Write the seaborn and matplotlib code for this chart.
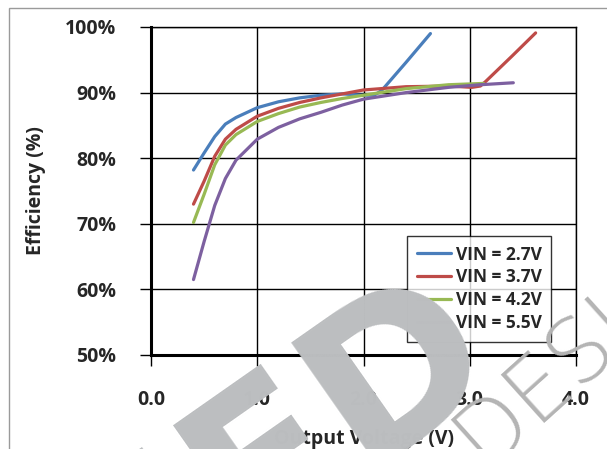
import numpy as np
import pandas as pd
import matplotlib.pyplot as plt
import matplotlib.patches as mpatches
import seaborn as sns

# values
v_27 = [0.40, 0.50, 0.60, 0.70, 0.80, 1.00, 1.20, 1.40, 1.60, 1.80, 2.00, 2.10, 2.17, 2.40, 2.63]
e_27 = [78.2, 80.8, 83.3, 85.2, 86.2, 87.7, 88.6, 89.2, 89.6, 89.8, 89.6, 89.6, 90.3, 94.6, 99.0]

v_37 = [0.40, 0.50, 0.60, 0.70, 0.80, 1.00, 1.20, 1.40, 1.60, 1.80, 2.00, 2.40, 2.80, 3.02, 3.10, 3.15, 3.40, 3.62]
e_37 = [73.0, 76.5, 80.3, 82.9, 84.4, 86.4, 87.6, 88.5, 89.2, 89.8, 90.4, 90.9, 91.0, 90.8, 91.0, 91.7, 95.6, 99.1]

v_42 = [0.40, 0.50, 0.60, 0.70, 0.80, 1.00, 1.20, 1.40, 1.60, 1.80, 2.00, 2.40, 2.80, 3.13]
e_42 = [70.2, 74.5, 79.0, 82.0, 83.6, 85.6, 86.8, 87.8, 88.5, 89.1, 89.6, 90.6, 91.2, 91.4]

v_55 = [0.40, 0.50, 0.60, 0.70, 0.80, 1.00, 1.20, 1.40, 1.60, 1.80, 2.00, 2.40, 2.80, 3.10, 3.41]
e_55 = [61.5, 67.3, 72.8, 76.9, 79.7, 82.9, 84.7, 86.0, 87.0, 88.1, 89.0, 90.0, 90.8, 91.2, 91.5]

labels = ['VIN = 2.7V', 'VIN = 3.7V', 'VIN = 4.2V', 'VIN = 5.5V']
colors = ['#4a7ebb', '#be4b48', '#98b954', '#7d60a0']
x_ticks = [0, 1, 2, 3, 4]
x_ticklabels = ['0.0', '1.0', '2.0', '3.0', '4.0']
y_ticks = [50, 60, 70, 80, 90, 100]

df = pd.concat([
    pd.DataFrame({'Vout': v, 'Eff': e, 'Series': lab})
    for v, e, lab in zip([v_27, v_37, v_42, v_55], [e_27, e_37, e_42, e_55], labels)
])

sns.set_style('white')
plt.rcParams['font.family'] = ['Open Sans', 'DejaVu Sans']
plt.rcParams['font.weight'] = 'bold'

fig = plt.figure(figsize=(6.07, 4.49), dpi=100)
ax = fig.add_axes([151/607, 1 - 355/449, (576-151)/607, (355-27)/449])

sns.lineplot(data=df, x='Vout', y='Eff', hue='Series', palette=colors, sort=False,
             estimator=None, lw=2.3, ax=ax)

ax.set_xlim(0, 4)
ax.set_ylim(50, 100)
ax.set_xticks(x_ticks)
ax.set_xticklabels(x_ticklabels)
ax.set_yticks(y_ticks)
ax.set_yticklabels(['%d%%' % t for t in y_ticks])
ax.grid(True, color='black', lw=1.0)
ax.set_axisbelow(True)
for s in ['left', 'bottom']:
    ax.spines[s].set_linewidth(2.2)
    ax.spines[s].set_color('black')
for s in ['top', 'right']:
    ax.spines[s].set_linewidth(1.0)
    ax.spines[s].set_color('black')
ax.tick_params(axis='both', which='major', bottom=True, left=True, direction='out',
               length=8, width=1, color='black', labelsize=14)
ax.tick_params(axis='x', pad=17)
ax.tick_params(axis='y', pad=17)
for t in ax.get_xticklabels() + ax.get_yticklabels():
    t.set_fontweight('bold')

ax.set_xlabel('Output Voltage (V)', fontsize=14, fontweight='bold', labelpad=14)
ax.set_ylabel('Efficiency (%)', fontsize=14, fontweight='bold', labelpad=14)

leg = ax.legend(loc='upper left', bbox_to_anchor=((407-151)/425, (355-236)/328),
                frameon=True, fancybox=False, fontsize=12.5, handlelength=2.0,
                handletextpad=0.25, labelspacing=0.28, borderpad=0.55, borderaxespad=0)
leg.get_frame().set_edgecolor('black')
leg.get_frame().set_linewidth(1.0)
for t in leg.get_texts():
    t.set_fontweight('bold')
for h in leg.get_lines():
    h.set_linewidth(2.3)

# outer chart frame
fig.patches.append(mpatches.Rectangle((9/607, -0.2), 1.2, 1.2 - 8/449, transform=fig.transFigure,
                                      fill=False, edgecolor='#9a9a9a', lw=1.0))

# watermark
fig.text(308/607, 1 - 434/449, 'IED', fontsize=152, fontweight='bold', color='#bcbec0',
         rotation=35, ha='center', va='center', rotation_mode='anchor', zorder=10,
         family='DejaVu Sans')
fig.text(484/607, 1 - 468/449, 'DESIGN', fontsize=64, fontweight='light', color='#b4b4b4',
         rotation=42, ha='left', va='baseline', rotation_mode='anchor', zorder=10,
         family='DejaVu Sans')

fig.savefig('out.png', dpi=100)
